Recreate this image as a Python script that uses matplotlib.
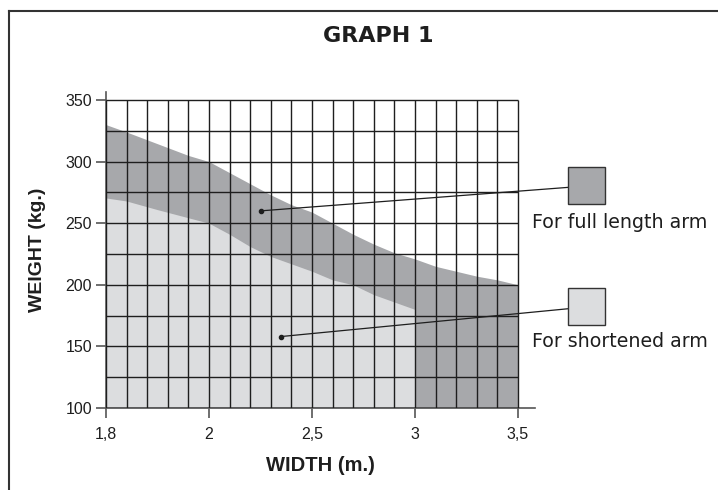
import numpy as np
import matplotlib
matplotlib.use('Agg')
import matplotlib.pyplot as plt
from matplotlib.patches import Rectangle
from matplotlib.lines import Line2D

plt.rcParams['font.family'] = ['Liberation Sans', 'DejaVu Sans']

# width tick values (not evenly spaced but drawn evenly spaced)
width_ticks = [1.8, 2.0, 2.5, 3.0, 3.5]
width_labels = ['1,8', '2', '2,5', '3', '3,5']
weight_ticks = [100, 150, 200, 250, 300, 350]

# upper limit (full length arm)
full_w = [1.8, 1.84, 1.96, 2.0, 2.1, 2.2, 2.3, 2.4, 2.5, 2.6, 2.7, 2.8, 2.9, 3.0, 3.1, 3.2, 3.3, 3.4, 3.5]
full_kg = [330, 324, 305, 300, 291, 282, 273, 265, 259, 250, 241, 233, 226, 221, 215, 211, 207, 204, 200]

# upper limit (shortened arm)
short_w = [1.8, 1.84, 1.9, 2.0, 2.1, 2.2, 2.3, 2.4, 2.5, 2.6, 2.7, 2.8, 2.9, 3.0]
short_kg = [270.5, 268, 261, 250, 241, 231, 223, 217, 211, 204, 200, 192, 186, 180]

dark = '#a7a8ab'
light = '#dcdddf'
ink = '#1e1e1e'

# piecewise scale so that 1,8 - 2 - 2,5 - 3 - 3,5 are equally spaced
brk_w = [1.6, 1.8, 2.0, 2.5, 3.0, 3.5, 4.0]
brk_i = [-1, 0, 1, 2, 3, 4, 5]
def fwd(w):
    return np.interp(w, brk_w, brk_i)
def inv(i):
    return np.interp(i, brk_i, brk_w)

fig = plt.figure(figsize=(7.18, 4.9), dpi=100)
ax = fig.add_axes([106/718, 82/490, (535-106)/718, (408-92)/490])
ax.set_xscale('function', functions=(fwd, inv))
ax.set_xlim(1.8, inv(4 * 429/412))
ax.set_ylim(100, 100 + 316/1.232)

ax.fill_between(full_w, 100, full_kg, color=dark, lw=0, zorder=1)
ax.fill_between(short_w, 100, short_kg, color=light, lw=0, zorder=2)

# grid: 5 columns per tick interval, 25 kg rows
grid_x = np.concatenate([inv(np.arange(0, 20) / 5.0), [3.5]])
ax.vlines(grid_x, 100, 350, color=ink, lw=1.0, zorder=3)
ax.hlines(np.arange(100, 351, 25), 1.8, 3.5, color=ink, lw=1.0, zorder=3)

for s in ['top', 'right']:
    ax.spines[s].set_visible(False)
for s in ['left', 'bottom']:
    ax.spines[s].set_color('#555555')
    ax.spines[s].set_linewidth(1.2)

ax.set_xticks(width_ticks)
ax.set_xticklabels(width_labels)
ax.set_yticks(weight_ticks)
ax.xaxis.set_minor_locator(matplotlib.ticker.NullLocator())
ax.tick_params(axis='both', direction='out', length=7, width=1.2, color='#555555',
               labelsize=11.5, labelcolor=ink, pad=3)
ax.tick_params(axis='x', pad=6.5)

ax.set_xlabel('WIDTH (m.)', fontsize=14.5, fontweight='bold', color=ink, labelpad=10.5)
ax.set_ylabel('WEIGHT (kg.)', fontsize=14, fontweight='bold', color=ink, labelpad=14.3)

W, H = 718.0, 490.0
fig.text(378/W, 1 - 42/H, 'GRAPH 1', fontsize=16, fontweight='bold', family='DejaVu Sans',
         ha='center', va='baseline', color=ink)

# legend boxes with leader lines
for (x0, y0, c, lab, ly, dot) in [
        (568, 167, dark, 'For full length arm', 228.5, (2.25, 260)),
        (568, 288, light, 'For shortened arm', 347, (2.35, 158))]:
    fig.add_artist(Rectangle((x0/W, 1 - (y0+37)/H), 37/W, 37/H, facecolor=c,
                             edgecolor='#333333', lw=1.0, transform=fig.transFigure))
    fig.text(532/W, 1 - ly/H, lab, fontsize=13.7, family='DejaVu Sans',
             ha='left', va='baseline', color=ink)
    ax.annotate('', xy=dot, xytext=((x0 + 18)/W, 1 - (y0 + 19)/H),
                textcoords='figure fraction',
                arrowprops=dict(arrowstyle='-', color=ink, lw=0.9, shrinkA=0, shrinkB=0),
                annotation_clip=False, zorder=5)
    ax.plot([dot[0]], [dot[1]], 'o', color=ink, ms=3, zorder=6, clip_on=False)

# outer frame (open at right and bottom)
fig.add_artist(Line2D([9/W, 9/W], [0, 1 - 11/H], color='#333333', lw=1.5, transform=fig.transFigure))
fig.add_artist(Line2D([9/W, 1], [1 - 11/H, 1 - 11/H], color='#333333', lw=1.5, transform=fig.transFigure))

fig.savefig('out.png', dpi=100)
